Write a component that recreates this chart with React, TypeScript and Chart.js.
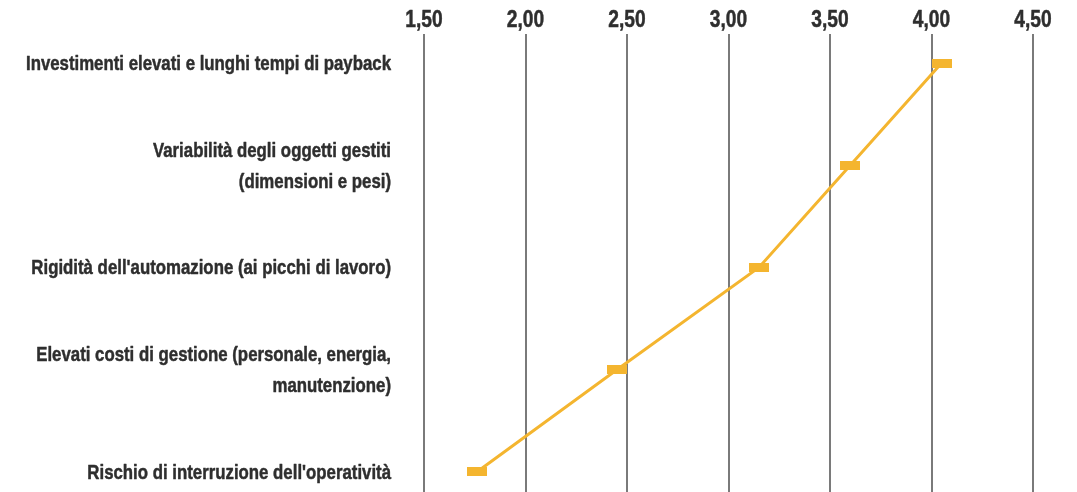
import React, { useEffect, useRef } from "react";
import { Chart, registerables } from "chart.js";

Chart.register(...registerables);

// Obstacles, listed top to bottom; multi-line labels are given as arrays of lines
const categories: (string | string[])[] = [
  "Investimenti elevati e lunghi tempi di payback",
  ["Variabilità degli oggetti gestiti", "(dimensioni e pesi)"],
  "Rigidità dell'automazione (ai picchi di lavoro)",
  ["Elevati costi di gestione (personale, energia,", "manutenzione)"],
  "Rischio di interruzione dell'operatività",
];

// Average score for each obstacle
const scores: number[] = [4.05, 3.6, 3.15, 2.45, 1.76];

// Score axis ticks
const scoreTicks: number[] = [1.5, 2.0, 2.5, 3.0, 3.5, 4.0, 4.5];

const LINE_COLOR = "#F4B52F";
const TEXT_COLOR = "#2e2e2e";
const GRID_COLOR = "#7a7a7a";
const FONT_FAMILY = "'Liberation Sans', Arial, sans-serif";
const LABEL_SIZE = 21;
const TICK_SIZE = 24;
const LINE_GAP = 31;
const SQUEEZE = 0.8; // horizontal condensing of the text

const formatScore = (v: number) => v.toFixed(2).replace(".", ",");

function makeMarker(): HTMLCanvasElement {
  const c = document.createElement("canvas");
  c.width = 20;
  c.height = 9;
  const g = c.getContext("2d")!;
  g.fillStyle = LINE_COLOR;
  g.fillRect(0, 0, 20, 9);
  return c;
}

// Writes one line of condensed bold text at (x, y)
function condensedText(ctx: CanvasRenderingContext2D, text: string, x: number, y: number) {
  ctx.save();
  ctx.translate(x, y);
  ctx.scale(SQUEEZE, 1);
  ctx.strokeText(text, 0, 0);
  ctx.fillText(text, 0, 0);
  ctx.restore();
}

// Draws the axis labels in a condensed bold face, positioned by the chart scales
const condensedLabels = {
  id: "condensedLabels",
  afterDraw(chart: any) {
    const { ctx, chartArea, scales } = chart;
    const x = scales.x;
    const y = scales.y;
    ctx.save();
    ctx.fillStyle = TEXT_COLOR;
    ctx.strokeStyle = TEXT_COLOR;
    ctx.lineWidth = 0.5;
    ctx.lineJoin = "round";

    // score ticks above the plot
    ctx.font = `bold ${TICK_SIZE}px ${FONT_FAMILY}`;
    ctx.textAlign = "center";
    ctx.textBaseline = "alphabetic";
    scoreTicks.forEach((v) => {
      condensedText(ctx, formatScore(v), x.getPixelForValue(v), chartArea.top - 7);
    });

    // category labels, right-aligned left of the plot
    ctx.font = `bold ${LABEL_SIZE}px ${FONT_FAMILY}`;
    ctx.textAlign = "right";
    ctx.textBaseline = "middle";
    categories.forEach((label, i) => {
      const lines = Array.isArray(label) ? label : [label];
      const cy = y.getPixelForValue(i);
      const first = cy - ((lines.length - 1) * LINE_GAP) / 2;
      lines.forEach((line, k) => {
        condensedText(ctx, line, chartArea.left - 33, first + k * LINE_GAP + 1);
      });
    });
    ctx.restore();
  },
};

export default function App() {
  const canvasRef = useRef<HTMLCanvasElement | null>(null);

  useEffect(() => {
    if (!canvasRef.current) return;
    const marker = makeMarker();
    const points = scores.map((v, i) => ({ x: v, y: i }));

    const chart = new Chart(canvasRef.current, {
      type: "line",
      data: {
        datasets: [
          {
            data: points,
            borderColor: LINE_COLOR,
            borderWidth: 3,
            pointStyle: marker,
            pointRadius: 10,
            pointHoverRadius: 10,
            pointBorderWidth: 0,
            backgroundColor: LINE_COLOR,
            tension: 0,
            clip: false,
          },
        ],
      },
      plugins: [condensedLabels],
      options: {
        animation: false,
        responsive: false,
        maintainAspectRatio: false,
        events: [],
        layout: { autoPadding: false, padding: { left: 0, right: 44, top: 0, bottom: 0 } },
        plugins: {
          legend: { display: false },
          tooltip: { enabled: false },
        },
        scales: {
          x: {
            type: "linear",
            position: "top",
            min: scoreTicks[0],
            max: scoreTicks[scoreTicks.length - 1],
            afterBuildTicks: (scale: any) => {
              scale.ticks = scoreTicks.map((v) => ({ value: v }));
            },
            afterFit: (scale: any) => {
              scale.height = 34;
              scale.paddingLeft = 0;
              scale.paddingRight = 0;
            },
            ticks: { display: false },
            grid: {
              color: GRID_COLOR,
              lineWidth: 2,
              drawTicks: false,
            },
            border: { display: false },
          },
          y: {
            type: "linear",
            reverse: true,
            min: -0.284,
            max: 4.196,
            afterBuildTicks: (scale: any) => {
              scale.ticks = categories.map((_, i) => ({ value: i }));
            },
            afterFit: (scale: any) => {
              scale.width = 424;
              scale.paddingTop = 0;
              scale.paddingBottom = 0;
            },
            ticks: { display: false },
            grid: { display: false, drawTicks: false },
            border: { display: false },
          },
        },
      },
    });
    return () => chart.destroy();
  }, []);

  return (
    <div style={{ position: "fixed", left: 0, top: 0, width: 1077, height: 492, background: "#fff" }}>
      <canvas ref={canvasRef} width={1077} height={492} />
    </div>
  );
}
